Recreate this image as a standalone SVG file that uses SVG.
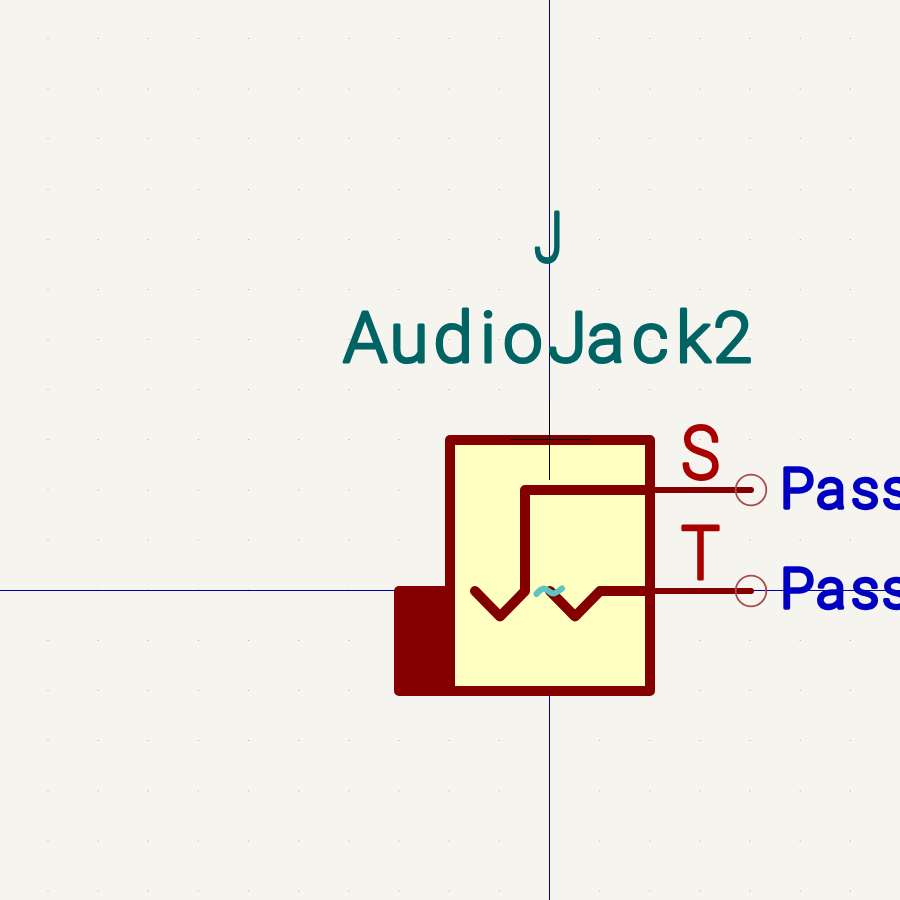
<svg xmlns="http://www.w3.org/2000/svg" width="900" height="900" viewBox="0 0 900 900">
<style>
.grid{stroke:#b4b4b0;stroke-width:1.2;stroke-dasharray:1.2 48.95;fill:none}
.body{stroke:#840000;stroke-width:10;stroke-linejoin:round;stroke-linecap:round}
.pinline{stroke:#840000;stroke-width:6;stroke-linecap:round;fill:none}
.t{font-family:"Roboto","Liberation Sans",sans-serif;font-weight:300;stroke-linejoin:round;stroke-linecap:round}
.ref{fill:#006464;stroke:#006464;stroke-width:3;font-size:71px}
.pn{fill:#a90000;stroke:#a90000;stroke-width:3;font-size:74px}
.pt{fill:#0000c2;stroke:#0000c2;stroke-width:3.500;font-size:56px}
</style>
<rect width="900" height="900" fill="#f5f4ef"/>
<defs><line id="row" x1="47.4" x2="900" class="grid"/></defs>
<g id="grid">
<use href="#row" y="38.5"/><use href="#row" y="89"/><use href="#row" y="138.5"/><use href="#row" y="189.5"/><use href="#row" y="239.5"/><use href="#row" y="289.5"/><use href="#row" y="339.5"/><use href="#row" y="389.5"/><use href="#row" y="439.5"/><use href="#row" y="490"/><use href="#row" y="540"/><use href="#row" y="590"/><use href="#row" y="640.5"/><use href="#row" y="690.5"/><use href="#row" y="740.5"/><use href="#row" y="791"/><use href="#row" y="841"/><use href="#row" y="891"/>
</g>
<g id="axes" shape-rendering="crispEdges">
<line x1="549.5" y1="0" x2="549.5" y2="900" stroke="#0000a0" stroke-width="1"/>
<line x1="0" y1="590.5" x2="900" y2="590.5" stroke="#0000a0" stroke-width="1"/>
</g>
<g id="body">
<rect x="399" y="591" width="51" height="100" fill="#840000" class="body"/>
<rect x="450" y="440" width="200" height="251" fill="#ffffc2" class="body"/>
<path d="M510 439.500H590M549.500 400V480" stroke="#000" stroke-width="1" fill="none" shape-rendering="crispEdges"/>
<path d="M650 490H525V591L500 616.500L475 591" class="body" fill="none"/>
<path d="M650 591H600L575 616.500L550 591" class="body" fill="none"/>
<path d="M536.500 594Q540 589 544 588.500C548 589 550 594 554 593.500Q558 592 562 588.500" stroke="#5ec4c4" stroke-width="6" stroke-linecap="round" fill="none"/>
</g>
<g id="pin-s">
<path d="M650 490H751" class="pinline"/>
<circle cx="751" cy="490" r="15.300" fill="none" stroke="#a84c4c" stroke-width="1.800"/>
<text class="t pn" x="681" y="479" textLength="39" lengthAdjust="spacingAndGlyphs">S</text>
<text class="t pt" x="780 816 851 882" y="507.500">Pass</text>
</g>
<g id="pin-t">
<path d="M650 591H751" class="pinline"/>
<circle cx="751" cy="591" r="15.300" fill="none" stroke="#a84c4c" stroke-width="1.800"/>
<text class="t pn" x="681" y="579" textLength="39" lengthAdjust="spacingAndGlyphs">T</text>
<text class="t pt" x="780 816 851 882" y="607.500">Pass</text>
</g>
<g id="labels">
<text class="t ref" x="534" y="262" textLength="29" lengthAdjust="spacingAndGlyphs">J</text>
<text class="t ref" x="343 389.500 433.500 480 503 548 586.500 632 676 713" y="361.500">AudioJack2</text>
</g>
</svg>
